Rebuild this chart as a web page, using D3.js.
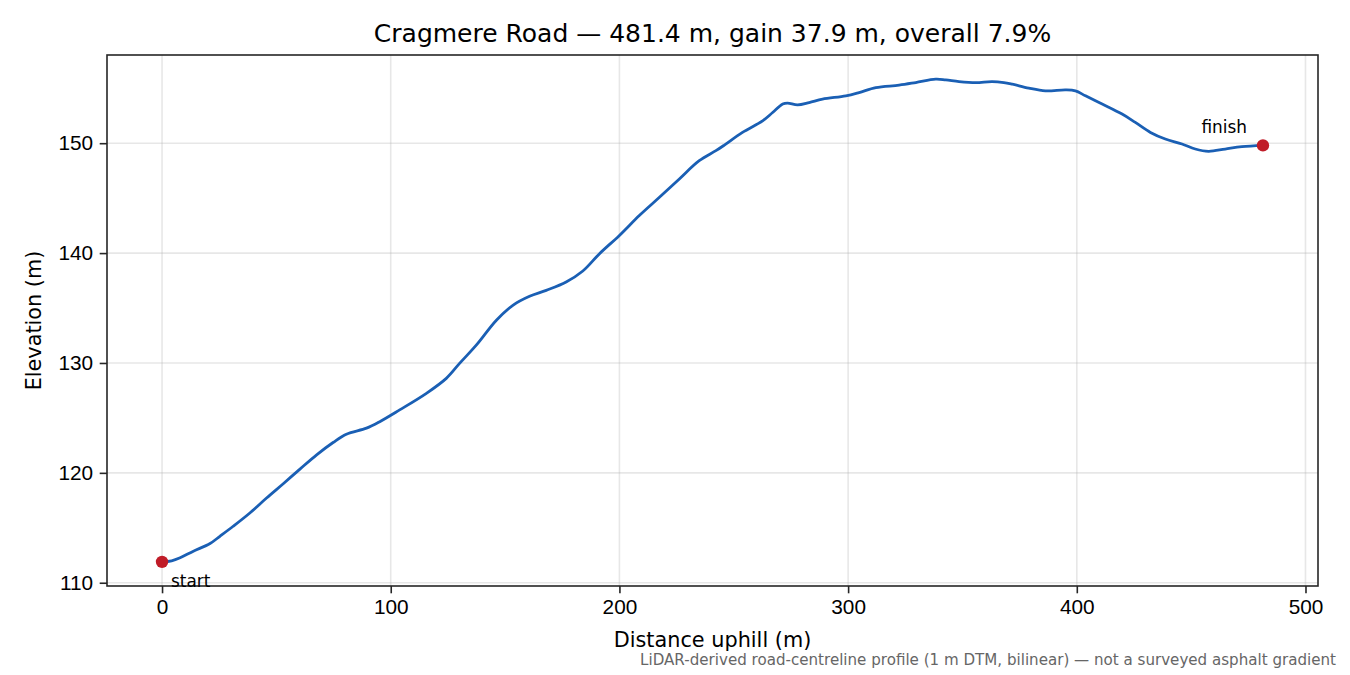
<!DOCTYPE html>
<html>
<head>
<meta charset="utf-8">
<script src="https://cdn.jsdelivr.net/npm/d3@7"></script>
<style>
   html, body { margin: 0; padding: 0; background: #fff; }
   svg { display: block; font-family: "DejaVu Sans", sans-serif; }
   .tick text { font-size: 20.8px; fill: #000; }
   .tick line { stroke: #262626; stroke-width: 1.6; }
   .domain { display: none; }
   .grid line { stroke: #b0b0b0; stroke-opacity: 0.3; stroke-width: 1.6; }
</style>
</head>
<body>
<svg id="chart" width="1350" height="675"></svg>
<script>
// profile: distance uphill (m) and elevation (m)
const distance = [
   0, 4.2, 7.9, 13.7, 21.0, 25.3, 31.1, 38.4, 45.7, 53.0, 60.3, 67.6, 74.8, 80.6, 89.4, 95.2,
   103.9, 115.6, 124.3, 130.1, 137.4, 146.2, 153.4, 160.7, 168.0, 176.7, 184.0, 191.3, 200.0,
   208.7, 217.5, 226.2, 234.9, 242.2, 245.9, 253.8, 262.6, 267.0, 271.4, 273.5, 277.9, 283.0,
   288.8, 299.0, 304.8, 312.1, 322.3, 329.6, 338.3, 342.7, 348.5, 355.8, 363.0, 368.1, 371.8,
   379.0, 386.3, 395.1, 399.4, 403.8, 411.1, 419.8, 425.6, 432.2, 438.7, 446.0, 451.8, 457.6,
   464.9, 472.2, 481.4
];
const elevation = [
   111.9, 112.0, 112.27, 112.87, 113.57, 114.23, 115.14, 116.35, 117.71, 119.01, 120.34, 121.64,
   122.76, 123.52, 124.07, 124.66, 125.73, 127.24, 128.6, 129.96, 131.62, 133.89, 135.25,
   136.07, 136.61, 137.37, 138.37, 139.95, 141.61, 143.42, 145.08, 146.75, 148.41, 149.32,
   149.83, 150.98, 152.03, 152.79, 153.56, 153.65, 153.49, 153.70, 154.01, 154.31, 154.61,
   155.06, 155.28, 155.52, 155.83, 155.76, 155.61, 155.52, 155.61, 155.52, 155.37, 155.01,
   154.76, 154.85, 154.76, 154.31, 153.56, 152.65, 151.89, 150.98, 150.38, 149.93, 149.47,
   149.26, 149.47, 149.68, 149.8
];
const endpointLabels = [ 'start', 'finish' ];

const titleText = 'Cragmere Road — 481.4 m, gain 37.9 m, overall 7.9%';
const xLabel = 'Distance uphill (m)';
const yLabel = 'Elevation (m)';
const footnote = 'LiDAR-derived road-centreline profile (1 m DTM, bilinear) — not a surveyed asphalt gradient';

const W = 1350, H = 675;
const margin = { top: 55, right: 32, bottom: 89, left: 107 };
const iw = W - margin.left - margin.right;
const ih = H - margin.top - margin.bottom;

const points = distance.map( ( d, i ) => ( { d, e: elevation[ i ] } ) );

// matplotlib-like 5% padding around the data
const pad = ( [ lo, hi ] ) => {
   const m = ( hi - lo ) * 0.05;
   return [ lo - m, hi + m ];
};
const x = d3.scaleLinear().domain( pad( d3.extent( distance ) ) ).range( [ 0, iw ] );
const y = d3.scaleLinear().domain( pad( d3.extent( elevation ) ) ).range( [ ih, 0 ] );

const svg = d3.select( '#chart' );
const g = svg.append( 'g' ).attr( 'transform', `translate(${margin.left},${margin.top})` );

const xTicks = x.ticks( 6 );
const yTicks = y.ticks( 5 );

// grid
g.append( 'g' ).attr( 'class', 'grid' )
   .selectAll( 'line.gx' ).data( xTicks ).join( 'line' )
   .attr( 'x1', d => x( d ) ).attr( 'x2', d => x( d ) )
   .attr( 'y1', 0 ).attr( 'y2', ih );
g.append( 'g' ).attr( 'class', 'grid' )
   .selectAll( 'line.gy' ).data( yTicks ).join( 'line' )
   .attr( 'y1', d => y( d ) ).attr( 'y2', d => y( d ) )
   .attr( 'x1', 0 ).attr( 'x2', iw );

// axes
g.append( 'g' )
   .attr( 'transform', `translate(0,${ih})` )
   .call( d3.axisBottom( x ).tickValues( xTicks ).tickFormat( d3.format( 'd' ) ).tickSize( 7.3 ).tickPadding( 5.5 ) );
g.append( 'g' )
   .call( d3.axisLeft( y ).tickValues( yTicks ).tickFormat( d3.format( 'd' ) ).tickSize( 7.3 ).tickPadding( 6.6 ) );

// profile line
g.append( 'path' )
   .datum( points )
   .attr( 'fill', 'none' )
   .attr( 'stroke', '#1a5fb4' )
   .attr( 'stroke-width', 2.8 )
   .attr( 'stroke-linejoin', 'round' )
   .attr( 'stroke-linecap', 'round' )
   .attr( 'd', d3.line().x( p => x( p.d ) ).y( p => y( p.e ) ).curve( d3.curveCatmullRom.alpha( 0.5 ) ) );

// spines
g.append( 'rect' )
   .attr( 'width', iw ).attr( 'height', ih )
   .attr( 'fill', 'none' ).attr( 'stroke', '#262626' ).attr( 'stroke-width', 1.6 );

// start / finish markers
const ends = [ points[ 0 ], points[ points.length - 1 ] ];
g.selectAll( 'circle.end' ).data( ends ).join( 'circle' )
   .attr( 'cx', p => x( p.d ) ).attr( 'cy', p => y( p.e ) )
   .attr( 'r', 6.2 ).attr( 'fill', '#c01c28' );

const labelOffsets = [ { dx: 9, dy: 25.5, anchor: 'start' }, { dx: -16, dy: -12.5, anchor: 'end' } ];
g.selectAll( 'text.end' ).data( ends ).join( 'text' )
   .attr( 'x', ( p, i ) => x( p.d ) + labelOffsets[ i ].dx )
   .attr( 'y', ( p, i ) => y( p.e ) + labelOffsets[ i ].dy )
   .attr( 'text-anchor', ( p, i ) => labelOffsets[ i ].anchor )
   .attr( 'font-size', 16.9 )
   .attr( 'fill', '#000' )
   .text( ( p, i ) => endpointLabels[ i ] );

// texts
svg.append( 'text' )
   .attr( 'x', margin.left + iw / 2 ).attr( 'y', 42 )
   .attr( 'text-anchor', 'middle' ).attr( 'font-size', 25 ).attr( 'fill', '#000' )
   .text( titleText );
svg.append( 'text' )
   .attr( 'x', margin.left + iw / 2 ).attr( 'y', 647 )
   .attr( 'text-anchor', 'middle' ).attr( 'font-size', 20.8 ).attr( 'fill', '#000' )
   .text( xLabel );
svg.append( 'text' )
   .attr( 'transform', `translate(41,${margin.top + ih / 2}) rotate(-90)` )
   .attr( 'text-anchor', 'middle' ).attr( 'font-size', 20.8 ).attr( 'fill', '#000' )
   .text( yLabel );
svg.append( 'text' )
   .attr( 'x', 1336 ).attr( 'y', 665 )
   .attr( 'text-anchor', 'end' ).attr( 'font-size', 15.1 ).attr( 'fill', '#666' )
   .text( footnote );
</script>
</body>
</html>
